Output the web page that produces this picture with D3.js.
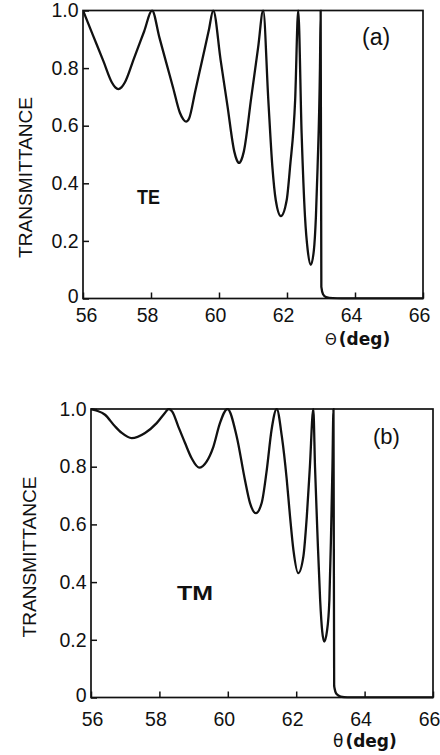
<!DOCTYPE html>
<html>
<head>
<meta charset="utf-8">
<script src="https://cdn.jsdelivr.net/npm/d3@7"></script>
<style>
  html, body { margin: 0; padding: 0; background: #fff; }
  svg { display: block; }
</style>
</head>
<body>
<svg id="chart" width="440" height="755"></svg>
<script>
// ---- data ----
const xTicks = [56, 58, 60, 62, 64, 66];
const yTicks = [0, 0.2, 0.4, 0.6, 0.8, 1.0];
const yTickLabels = ["0", "0.2", "0.4", "0.6", "0.8", "1.0"];

const thetaTE = [56.00, 56.30, 56.60, 56.85, 56.95, 57.04, 57.13, 57.23, 57.50, 57.80, 58.03,
  58.25, 58.45, 58.65, 58.85, 58.95, 59.03, 59.12, 59.30, 59.50, 59.70, 59.83,
  60.05, 60.25, 60.45, 60.52, 60.59, 60.66, 60.73, 60.95, 61.15, 61.30,
  61.45, 61.57, 61.67, 61.82, 61.99, 62.09, 62.24, 62.33,
  62.43, 62.53, 62.61, 62.70, 62.79, 62.85, 62.90, 62.97, 62.99,
  63.01, 63.06, 63.15, 63.35, 63.60, 66.00];
const transTE = [1.000, 0.912, 0.824, 0.750, 0.733, 0.727, 0.733, 0.750, 0.834, 0.928, 1.000,
  0.905, 0.818, 0.732, 0.645, 0.622, 0.614, 0.625, 0.719, 0.825, 0.931, 1.000,
  0.826, 0.668, 0.510, 0.482, 0.471, 0.482, 0.510, 0.699, 0.871, 1.000,
  0.690, 0.457, 0.341, 0.286, 0.341, 0.457, 0.690, 1.000,
  0.574, 0.283, 0.167, 0.117, 0.167, 0.283, 0.457, 0.806, 1.000,
  0.040, 0.015, 0.005, 0.001, 0.000, 0.000];

const thetaTM = [56.00, 56.15, 56.41, 56.70, 56.90, 57.19, 57.58, 57.92, 58.16, 58.27, 58.38,
  58.55, 58.75, 58.94, 59.16, 59.38, 59.58, 59.77, 59.99,
  60.26, 60.50, 60.65, 60.82, 60.99, 61.14, 61.28, 61.43,
  61.58, 61.72, 61.82, 61.92, 62.06, 62.21, 62.31, 62.40, 62.50,
  62.55, 62.62, 62.70, 62.76, 62.82, 62.90, 62.97, 63.02, 63.06, 63.09,
  63.11, 63.18, 63.30, 63.50, 66.00];
const transTM = [1.000, 0.995, 0.980, 0.940, 0.917, 0.899, 0.917, 0.951, 0.986, 1.000, 0.990,
  0.940, 0.882, 0.830, 0.797, 0.818, 0.870, 0.951, 1.000,
  0.905, 0.755, 0.674, 0.639, 0.674, 0.789, 0.928, 1.000,
  0.905, 0.760, 0.627, 0.510, 0.431, 0.489, 0.627, 0.800, 1.000,
  0.800, 0.570, 0.338, 0.230, 0.194, 0.230, 0.338, 0.570, 0.800, 1.000,
  0.040, 0.012, 0.003, 0.000, 0.000];

const panels = [
  { id: "a", label: "(a)", mode: "TE", thetaSym: "\u0398", xs: thetaTE, ys: transTE,
    left: 83, right: 423, top: 10.5, bottom: 298.5, xPad: 9.5, firstDx: 3,
    yTitle: [25.8, 177.5], modePos: [137, 203.5], modeLen: 23, labelPos: [362, 45], labelSize: 23,
    xTitlePos: [325, 345], thetaSize: 15 },
  { id: "b", label: "(b)", mode: "TM", thetaSym: "\u03B8", xs: thetaTM, ys: transTM,
    left: 91, right: 433, top: 409, bottom: 697.5, xPad: 15, firstDx: 1,
    yTitle: [29, 557], modePos: [177, 600], modeLen: 36, labelPos: [373, 444], labelSize: 22,
    xTitlePos: [333, 747], thetaSize: 17 }
];

const svg = d3.select("#chart");
const ink = "#111";

panels.forEach(p => {
  const x = d3.scaleLinear().domain([56, 66]).range([p.left, p.right]);
  const y = d3.scaleLinear().domain([0, 1]).range([p.bottom, p.top]);
  const g = svg.append("g");

  const clipId = "clip-" + p.id;
  svg.append("clipPath").attr("id", clipId).append("rect")
    .attr("x", p.left).attr("y", p.top - 1)
    .attr("width", p.right - p.left).attr("height", p.bottom - p.top + 2);

  // axes
  const xAxis = d3.axisBottom(x).tickValues(xTicks).tickSize(-6).tickSizeOuter(0)
    .tickPadding(p.xPad).tickFormat(d3.format("d"));
  const gx = g.append("g").attr("transform", `translate(0,${p.bottom})`).call(xAxis);
  const yAxis = d3.axisLeft(y).tickValues(yTicks).tickSize(-6).tickSizeOuter(0)
    .tickPadding(4.5).tickFormat((d, i) => yTickLabels[i]);
  const gy = g.append("g").attr("transform", `translate(${p.left},0)`).call(yAxis);

  [gx, gy].forEach(ax => {
    ax.select(".domain").remove();
    ax.selectAll(".tick line").attr("stroke", ink).attr("stroke-width", 1.5);
    ax.selectAll(".tick text").attr("fill", ink)
      .style("font-family", "'Liberation Sans', Arial, sans-serif")
      .style("font-size", "19.5px");
  });
  gx.selectAll(".tick text").attr("dx", d => d === xTicks[0] ? p.firstDx : -4);
  gy.selectAll(".tick text").filter(d => d === yTicks[0]).attr("dy", "0.2em");

  // frame
  g.append("rect")
    .attr("x", p.left).attr("y", p.top)
    .attr("width", p.right - p.left).attr("height", p.bottom - p.top)
    .attr("fill", "none").attr("stroke", ink).attr("stroke-width", 1.7);

  // curve
  const pts = p.xs.map((t, i) => [t, p.ys[i]]);
  g.append("path")
    .datum(pts)
    .attr("clip-path", `url(#${clipId})`)
    .attr("fill", "none").attr("stroke", ink).attr("stroke-width", 2.3)
    .attr("stroke-linejoin", "round")
    .attr("d", d3.line().x(d => x(d[0])).y(d => y(d[1])).curve(d3.curveMonotoneX));

  // y title
  g.append("text")
    .attr("transform", `translate(${p.yTitle[0]},${p.yTitle[1]}) rotate(-90)`)
    .attr("text-anchor", "middle").attr("dominant-baseline", "central")
    .attr("textLength", 161).attr("lengthAdjust", "spacingAndGlyphs")
    .style("font-family", "'Liberation Sans', Arial, sans-serif")
    .style("font-size", "19px").attr("fill", ink)
    .text("TRANSMITTANCE");

  // mode label
  g.append("text")
    .attr("x", p.modePos[0]).attr("y", p.modePos[1])
    .attr("textLength", p.modeLen).attr("lengthAdjust", "spacingAndGlyphs")
    .style("font-family", "'Liberation Sans', Arial, sans-serif")
    .style("font-weight", "bold").style("font-size", "20px").attr("fill", ink)
    .text(p.mode);

  // panel label
  g.append("text")
    .attr("x", p.labelPos[0]).attr("y", p.labelPos[1])
    .style("font-family", "'Liberation Sans', Arial, sans-serif")
    .style("font-size", p.labelSize + "px").attr("fill", ink)
    .text(p.label);

  // x title
  const xt = g.append("text")
    .attr("x", p.xTitlePos[0]).attr("y", p.xTitlePos[1]).attr("fill", ink);
  xt.append("tspan")
    .style("font-family", "'DejaVu Sans', sans-serif")
    .style("font-size", p.thetaSize + "px")
    .text(p.thetaSym);
  xt.append("tspan").attr("dx", 2)
    .style("font-family", "'DejaVu Sans', sans-serif")
    .style("font-weight", "bold").style("font-size", "17px")
    .text("(deg)");
});
</script>
</body>
</html>
